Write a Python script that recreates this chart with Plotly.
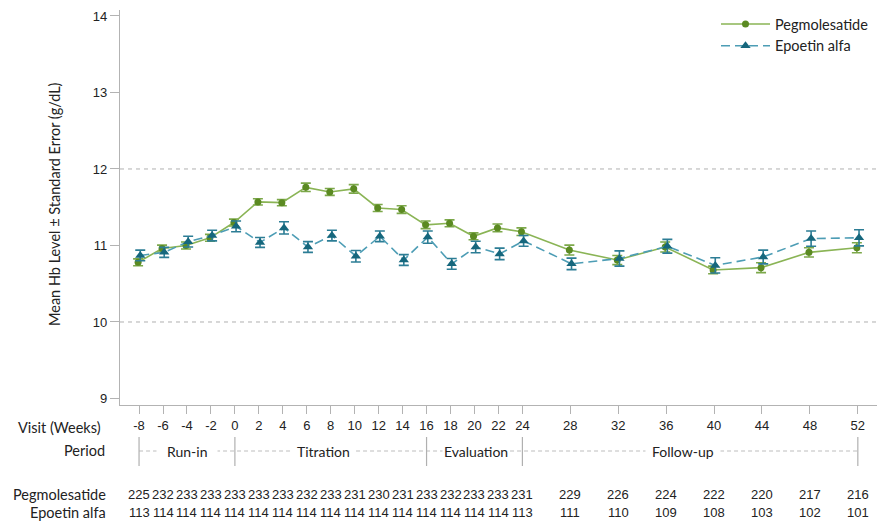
import plotly.graph_objects as go

# ---------------- data ----------------
weeks = [-8, -6, -4, -2, 0, 2, 4, 6, 8, 10, 12, 14, 16, 18, 20, 22, 24, 28, 32, 36, 40, 44, 48, 52]
tick_labels = [str(w) for w in weeks]

peg_mean = [10.78, 10.96, 11.00, 11.10, 11.30, 11.57, 11.56, 11.76, 11.70, 11.74, 11.49, 11.47,
            11.27, 11.29, 11.12, 11.23, 11.18, 10.94, 10.81, 10.98, 10.68, 10.71, 10.91, 10.97]
peg_se = [0.045, 0.045, 0.045, 0.045, 0.045, 0.040, 0.040, 0.055, 0.045, 0.055, 0.045, 0.050,
          0.050, 0.045, 0.045, 0.050, 0.050, 0.065, 0.060, 0.065, 0.050, 0.065, 0.060, 0.065]

epo_mean = [10.87, 10.91, 11.05, 11.13, 11.25, 11.04, 11.23, 10.98, 11.13, 10.86, 11.12, 10.81,
            11.11, 10.76, 10.98, 10.89, 11.06, 10.76, 10.83, 10.99, 10.74, 10.85, 11.09, 11.10]
epo_se = [0.070, 0.065, 0.070, 0.070, 0.070, 0.065, 0.080, 0.070, 0.070, 0.075, 0.070, 0.070,
          0.080, 0.070, 0.075, 0.075, 0.070, 0.075, 0.100, 0.090, 0.100, 0.090, 0.100, 0.105]

peg_n = [225, 232, 233, 233, 233, 233, 233, 232, 233, 231, 230, 231, 233, 232, 233, 233, 231,
         229, 226, 224, 222, 220, 217, 216]
epo_n = [113, 114, 114, 114, 114, 114, 114, 114, 114, 114, 114, 114, 114, 114, 114, 114, 113,
         111, 110, 109, 108, 103, 102, 101]

period_bounds = [-8, 0, 16, 24, 52]
period_names = ["Run-in", "Titration", "Evaluation", "Follow-up"]
period_centers = [-4, 7.4, 20.1, 37.4]
period_pads = [10, 5, 1, 6]

series_names = ["Pegmolesatide", "Epoetin alfa"]

# ---------------- layout geometry ----------------
W, H = 880, 522
ML, MR, MT, MB = 120, 3, 10, 117
PW, PH = W - ML - MR, H - MT - MB
X_RANGE = [-9.59, 53.6]
Y_RANGE = [8.915, 14.078]


def px_x(p):
    return (p - ML) / PW


def px_y(p):
    return (H - MB - p) / PH


GREEN_LINE = "#8ab455"
GREEN_MARK = "#5b8a22"
GREEN_ERR = "#7ca84a"
BLUE_LINE = "#4d9db5"
BLUE_MARK = "#16677d"
BLUE_ERR = "#2c7d95"
AXIS = "#b3b3b3"
TXT = "#222222"
LABEL_FONT = "Lato"
NUM_FONT = "Liberation Sans, Arial"

fig = go.Figure()

fig.add_trace(go.Scatter(
    x=[w - 0.08 for w in weeks], y=peg_mean, name=series_names[0],
    mode="lines+markers",
    line=dict(color=GREEN_LINE, width=1.6),
    marker=dict(symbol="circle", size=7, color=GREEN_MARK),
    error_y=dict(type="data", array=peg_se, visible=True, color=GREEN_ERR, thickness=1.6, width=5),
))
fig.add_trace(go.Scatter(
    x=[w + 0.1 for w in weeks], y=epo_mean, name=series_names[1],
    mode="lines+markers",
    line=dict(color=BLUE_LINE, width=1.6, dash="9px,5px"),
    marker=dict(symbol="triangle-up", size=9, color=BLUE_MARK),
    error_y=dict(type="data", array=epo_se, visible=True, color=BLUE_ERR, thickness=1.6, width=5),
))

shapes = []
# dashed reference lines at 10 and 12
for yv in [10, 12]:
    shapes.append(dict(type="line", xref="paper", yref="y", x0=0, x1=1, y0=yv, y1=yv,
                       line=dict(color="#b0b0b0", width=1, dash="4px,4px"), layer="below"))
# period row
y_period = px_y(451)
shapes.append(dict(type="line", xref="x", yref="paper", x0=period_bounds[0], x1=period_bounds[-1],
                   y0=y_period, y1=y_period, line=dict(color="#bdbdbd", width=1, dash="4px,3px")))
for b in period_bounds:
    shapes.append(dict(type="line", xref="x", yref="paper", x0=b, x1=b,
                       y0=px_y(437), y1=px_y(466), line=dict(color="#b0b0b0", width=1.2)))

annotations = []
for name, c, pad in zip(period_names, period_centers, period_pads):
    annotations.append(dict(text=name, xref="x", yref="paper", x=c, y=y_period,
                            showarrow=False, xanchor="center", yanchor="middle",
                            bgcolor="white", borderpad=pad,
                            font=dict(family=LABEL_FONT, size=14, color=TXT)))

row_labels = [("Visit (Weeks)", 427, 103), ("Period", 450, 107),
              (series_names[0], 495, 108), (series_names[1], 512, 108)]
for txt, yp, xp in row_labels:
    annotations.append(dict(text=txt, xref="paper", yref="paper", x=px_x(xp), y=px_y(yp),
                            showarrow=False, xanchor="right", yanchor="middle",
                            font=dict(family=LABEL_FONT, size=14.5, color=TXT)))

for w, n1, n2 in zip(weeks, peg_n, epo_n):
    for n, yp in [(n1, 495), (n2, 512)]:
        annotations.append(dict(text=str(n), xref="x", yref="paper", x=w, y=px_y(yp),
                                showarrow=False, xanchor="center", yanchor="middle",
                                font=dict(family=NUM_FONT, size=13, color=TXT)))

annotations.append(dict(text="Mean Hb Level \u00b1 Standard Error (g/dL)", textangle=-90,
                        xref="paper", yref="paper", x=px_x(55), y=px_y(204),
                        showarrow=False, xanchor="center", yanchor="middle",
                        font=dict(family=LABEL_FONT, size=14.5, color=TXT)))

fig.update_layout(
    width=W, height=H,
    margin=dict(l=ML, r=MR, t=MT, b=MB, pad=0),
    paper_bgcolor="white", plot_bgcolor="white",
    showlegend=True,
    legend=dict(x=px_x(716), y=px_y(8), xanchor="left", yanchor="top",
                bgcolor="rgba(0,0,0,0)", itemwidth=49, tracegroupgap=0,
                font=dict(family=LABEL_FONT, size=14.5, color=TXT)),
    xaxis=dict(range=X_RANGE, tickvals=weeks, ticktext=tick_labels,
               showgrid=False, zeroline=False, showline=True, linecolor=AXIS, linewidth=1.2,
               ticks="outside", ticklen=8, tickcolor=AXIS, tickwidth=1.2,
               tickfont=dict(family=NUM_FONT, size=13, color=TXT)),
    yaxis=dict(range=Y_RANGE, tickvals=[9, 10, 11, 12, 13, 14],
               showgrid=False, zeroline=False, showline=True, linecolor=AXIS, linewidth=1.2,
               ticks="outside", ticklen=9, tickcolor=AXIS, tickwidth=1.2,
               tickfont=dict(family=NUM_FONT, size=13, color=TXT)),
    shapes=shapes,
    annotations=annotations,
)

fig.write_html("out.html", config={"displayModeBar": False},
               post_script="document.body.style.margin='0';document.body.style.overflow='hidden';")
